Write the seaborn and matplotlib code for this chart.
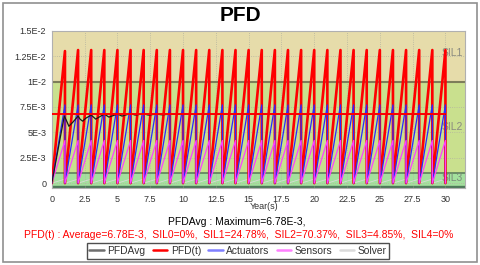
import matplotlib
matplotlib.use("Agg")
import matplotlib.pyplot as plt
from matplotlib.lines import Line2D
from matplotlib.patches import Rectangle
import seaborn as sns

# --- data ---
years = list(range(0, 31))
pfd_peaks = [0.0130, 0.0131, 0.0131, 0.0131, 0.0131, 0.0131, 0.0131, 0.0131, 0.0131, 0.0131,
             0.0131, 0.0131, 0.0131, 0.0131, 0.0131, 0.0131, 0.0131, 0.0131, 0.0131, 0.0131,
             0.0131, 0.0131, 0.0131, 0.0131, 0.0131, 0.0131, 0.0131, 0.0131, 0.0131, 0.0131]
act_peaks = [0.0077, 0.0077, 0.0077, 0.0077, 0.0077, 0.0077, 0.0077, 0.0077, 0.0077, 0.0077,
             0.0077, 0.0077, 0.0077, 0.0077, 0.0077, 0.0077, 0.0077, 0.0077, 0.0077, 0.0077,
             0.0077, 0.0077, 0.0077, 0.0077, 0.0077, 0.0077, 0.0077, 0.0077, 0.0077, 0.0077]
sen_peaks = [0.0042, 0.0042, 0.0042, 0.0042, 0.0042, 0.0042, 0.0042, 0.0042, 0.0042, 0.0042,
             0.0042, 0.0042, 0.0042, 0.0042, 0.0042, 0.0042, 0.0042, 0.0042, 0.0042, 0.0042,
             0.0042, 0.0042, 0.0042, 0.0042, 0.0042, 0.0042, 0.0042, 0.0042, 0.0042, 0.0042]
sol_peaks = [0.0004, 0.0004, 0.0004, 0.0004, 0.0004, 0.0004, 0.0004, 0.0004, 0.0004, 0.0004,
             0.0004, 0.0004, 0.0004, 0.0004, 0.0004, 0.0004, 0.0004, 0.0004, 0.0004, 0.0004,
             0.0004, 0.0004, 0.0004, 0.0004, 0.0004, 0.0004, 0.0004, 0.0004, 0.0004, 0.0004]

avg_t = [0, 0.3, 0.6, 0.95, 1.1, 1.3, 1.6, 2.0, 2.15, 2.35, 2.6, 3.0, 3.35, 3.6, 4.0,
         4.35, 5.0, 5.35, 6.0, 6.35, 7.0, 7.35, 8.0, 8.35, 9.0, 10, 15, 20, 25, 30]
avg_v = [0, 0.0021, 0.0042, 0.0066, 0.0062, 0.0056, 0.0060, 0.0066, 0.0063, 0.0061, 0.0064,
         0.0067, 0.0063, 0.0065, 0.0068, 0.0065, 0.0068, 0.0066, 0.00685, 0.0067, 0.00683,
         0.0067, 0.0068, 0.00673, 0.00678, 0.00677, 0.00678, 0.00677, 0.00678, 0.00678]

pfd_avg = 6.78e-3
pfdavg_max = 6.78e-3
sil_pct = [0, 24.78, 70.37, 4.85, 0]

ytick_vals = [0, 0.0025, 0.005, 0.0075, 0.01, 0.0125, 0.015]
ytick_labels = ["0", "2.5E-3", "5E-3", "7.5E-3", "1E-2", "1.25E-2", "1.5E-2"]
xtick_vals = [0, 2.5, 5, 7.5, 10, 12.5, 15, 17.5, 20, 22.5, 25, 27.5, 30]
xtick_labels = ["0", "2.5", "5", "7.5", "10", "12.5", "15", "17.5", "20", "22.5", "25", "27.5", "30"]


def sawtooth(peaks):
    """Linear rise over each test interval, instant drop back to 0."""
    xs, ys = [years[0]], [0.0]
    for k, p in enumerate(peaks):
        xs += [years[k + 1], years[k + 1]]
        ys += [p, 0.0]
    return xs, ys


sns.set_style("white")
plt.rcParams["font.family"] = ["Liberation Sans", "DejaVu Sans"]

fig = plt.figure(figsize=(4.8, 2.65), dpi=100)
ax = fig.add_axes([0.108, 0.292, 0.861, 0.592])

ymin, ymax = -0.00044, 0.015
ax.set_xlim(0, 31.5)
ax.set_ylim(ymin, ymax)

# SIL bands
ax.axhspan(0.01, ymax, color="#e6dcaa", zorder=0)
ax.axhspan(0.001, 0.01, color="#c9e08e", zorder=0)
ax.axhspan(ymin, 0.001, color="#a3e09d", zorder=0)
ax.axhspan(ymin, ymin + 0.00013, color="#4e7a5a", zorder=0)
ax.axhline(0.01, color="#7d7d5a", lw=1.5, zorder=1)
ax.axhline(0.001, color="#587858", lw=1.1, zorder=1)
ax.text(31.3, 0.0128, "SIL1", ha="right", va="center", fontsize=7.5, color="#8a8a80")
ax.text(31.3, 0.0055, "SIL2", ha="right", va="center", fontsize=7.5, color="#8a8a80")
ax.text(31.3, 0.0005, "SIL3", ha="right", va="center", fontsize=7.5, color="#7a8a7a")

ax.grid(True, color="#b4b4a0", linestyle=":", lw=0.6)
ax.set_axisbelow(True)

x, y = sawtooth(pfd_peaks)
sns.lineplot(x=x, y=y, sort=False, estimator=None, color="#ff0000", lw=1.9, ax=ax, zorder=3)
x, y = sawtooth(act_peaks)
sns.lineplot(x=x, y=y, sort=False, estimator=None, color="#2a2aff", lw=0.9, ax=ax, zorder=4)
x, y = sawtooth(sen_peaks)
sns.lineplot(x=x, y=y, sort=False, estimator=None, color="#ff40ff", lw=0.9, ax=ax, zorder=4)
x, y = sawtooth(sol_peaks)
sns.lineplot(x=x, y=y, sort=False, estimator=None, color="#d8d8d8", lw=0.6, ax=ax, zorder=2)
sns.lineplot(x=avg_t, y=avg_v, sort=False, estimator=None, color="#1a1a1a", lw=0.9, ax=ax, zorder=5)
sns.lineplot(x=[0, 30], y=[pfd_avg, pfd_avg], color="#ff0000", lw=1.4, ax=ax, zorder=6)

ax.set_yticks(ytick_vals)
ax.set_yticklabels(ytick_labels)
ax.set_xticks(xtick_vals)
ax.set_xticklabels(xtick_labels)
ax.tick_params(axis="both", labelsize=6.5, length=2, width=0.6, color="#888888",
               labelcolor="#333333", pad=2, direction="out")
ax.tick_params(axis="x", pad=3)
ax.set_xlabel("")
ax.set_ylabel("")
for s in ax.spines.values():
    s.set_color("#b0b0b0")
    s.set_linewidth(0.8)

fig.text(0.5, 0.943, "PFD", ha="center", va="center", fontsize=15, fontweight="bold",
         color="black")
fig.text(0.55, 0.222, "Year(s)", ha="center", va="center", fontsize=6.5, color="#333333")
fig.text(0.494, 0.162, f"PFDAvg : Maximum={pfdavg_max:.2E},".replace("E-03", "E-3"),
         ha="center", va="center", fontsize=7.5, color="black")
red_txt = (f"PFD(t) : Average={pfd_avg:.2E},  ".replace("E-03", "E-3")
           + ",  ".join(f"SIL{i}={p:g}%" for i, p in enumerate(sil_pct)))
fig.text(0.498, 0.113, red_txt, ha="center", va="center", fontsize=7.5, color="#ff0000")

handles = [Line2D([], [], color="#6e6e6e", lw=1.8),
           Line2D([], [], color="#ff0000", lw=1.8),
           Line2D([], [], color="#7f7fff", lw=1.8),
           Line2D([], [], color="#ff80ff", lw=1.8),
           Line2D([], [], color="#dadada", lw=1.8)]
leg = fig.legend(handles, ["PFDAvg", "PFD(t)", "Actuators", "Sensors", "Solver"],
                 loc="center", bbox_to_anchor=(0.496, 0.053), ncol=5, fontsize=7.4,
                 frameon=True, fancybox=False, handlelength=1.4, handletextpad=0.35,
                 columnspacing=0.7, borderpad=0.25, borderaxespad=0)
leg.get_frame().set_edgecolor("#222222")
leg.get_frame().set_linewidth(1.0)
for t in leg.get_texts():
    t.set_color("#333333")

# outer frame
fig.patches.append(Rectangle((0.006, 0.01), 0.988, 0.978, transform=fig.transFigure,
                             fill=False, edgecolor="#909090", lw=1.2))

fig.savefig("out.png", dpi=100)
